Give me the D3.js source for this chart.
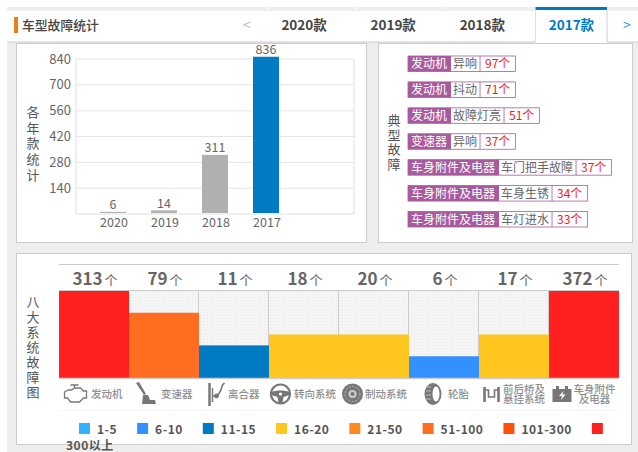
<!DOCTYPE html>
<html>
<head>
<meta charset="utf-8">
<script src="https://cdn.jsdelivr.net/npm/d3@7"></script>
<style>
html, body { margin: 0; padding: 0; background: #fff; overflow: hidden; }
text { font-family: "Noto Sans CJK SC", "Noto Sans", sans-serif; }
</style>
</head>
<body>
<svg id="chart"></svg>
<script>
const WIDTH = 638;
const HEIGHT = 452;

// tabs
const tabs = ['2020款', '2019款', '2018款', '2017款'];

// yearly stats
const years = ['2020', '2019', '2018', '2017'];
const yearValues = [6, 14, 311, 836];
const yearTicks = [140, 280, 420, 560, 700, 840];

// typical faults
const faultSystems = ['发动机', '发动机', '发动机', '变速器', '车身附件及电器', '车身附件及电器', '车身附件及电器'];
const faultNames = ['异响', '抖动', '故障灯亮', '异响', '车门把手故障', '车身生锈', '车灯进水'];
const faultCounts = [97, 71, 51, 37, 37, 34, 33];

// eight systems
const systems = ['发动机', '变速器', '离合器', '转向系统', '制动系统', '轮胎', '前后桥及悬挂系统', '车身附件及电器'];
const systemValues = [313, 79, 11, 18, 20, 6, 17, 372];

// legend buckets
const bucketLabels = ['1-5', '6-10', '11-15', '16-20', '21-50', '51-100', '101-300', '300以上'];
const bucketLimits = [6, 11, 16, 21, 51, 101, 301];
const bucketColors = ['#33b1ff', '#3390ff', '#007ac2', '#ffc620', '#ff8a20', '#ff6e20', '#ff5010', '#ff2020'];

const svg = d3.select('#chart').attr('width', WIDTH).attr('height', HEIGHT);

svg.append('rect').attr('x', 7).attr('y', 7).attr('width', WIDTH - 7).attr('height', HEIGHT - 7).attr('fill', '#eeeeee');

function panel(x, y, w, h) {
    svg.append('rect').attr('x', x + 0.5).attr('y', y + 0.5).attr('width', w).attr('height', h)
        .attr('fill', '#fff').attr('stroke', '#cccccc');
}

function verticalText(chars, x, top, step, size) {
    svg.append('g').selectAll('text').data(chars.split('')).enter().append('text')
        .attr('x', x).attr('y', (d, i) => top + i * step)
        .attr('text-anchor', 'middle').attr('font-size', size).attr('fill', '#555')
        .text(d => d);
}

// header
svg.append('rect').attr('x', 7).attr('y', 11).attr('width', WIDTH - 7).attr('height', 31).attr('fill', '#fff');
svg.append('line').attr('x1', 7).attr('x2', WIDTH).attr('y1', 42).attr('y2', 42).attr('stroke', '#cccccc');
svg.append('rect').attr('x', 14).attr('y', 17).attr('width', 4).attr('height', 16).attr('fill', '#ef7d1a');
svg.append('text').attr('x', 22).attr('y', 30).attr('font-size', 12.8).attr('font-weight', 500).attr('fill', '#444').text('车型故障统计');
svg.append('text').attr('x', 247).attr('y', 30).attr('text-anchor', 'middle').attr('font-size', 14).attr('fill', '#bbb').text('<');

const tabX = d3.scaleBand().domain(tabs).range([267.5, 624]);
// small white notches above the inactive tabs
svg.append('g').selectAll('rect').data(tabs.slice(0, 3)).enter().append('rect')
    .attr('x', d => tabX(d) - 0.5).attr('y', 7).attr('width', 72.5).attr('height', 2).attr('fill', '#eeeeee');
svg.append('g').selectAll('line').data(tabs.slice(0, 3)).enter().append('line')
    .attr('x1', d => tabX(d)).attr('x2', d => tabX(d)).attr('y1', 7).attr('y2', 10).attr('stroke', '#fff');
svg.append('rect').attr('x', 535.5).attr('y', 7).attr('width', 71.5).attr('height', 36).attr('fill', '#fff');
svg.append('line').attr('x1', 535.5).attr('x2', 535.5).attr('y1', 11).attr('y2', 42).attr('stroke', '#ddd');
svg.append('line').attr('x1', 607).attr('x2', 607).attr('y1', 11).attr('y2', 42).attr('stroke', '#ccc');
svg.append('rect').attr('x', 535.5).attr('y', 7).attr('width', 71.5).attr('height', 3).attr('fill', '#007ac2');
svg.append('g').selectAll('text').data(tabs).enter().append('text')
    .attr('x', d => tabX(d) + tabX.bandwidth() / 2 - 8)
    .attr('y', 30).attr('text-anchor', 'middle').attr('font-size', 13.5).attr('font-weight', 700)
    .attr('fill', d => d === '2017款' ? '#007ac2' : '#444').text(d => d);
svg.append('text').attr('x', 627).attr('y', 30).attr('text-anchor', 'middle').attr('font-size', 14).attr('fill', '#3a90d0').text('>');

// panels
panel(16, 43, 350, 199);
panel(378, 43, 254, 199);
panel(16, 253, 615, 191);

// --- bar chart ---
const x = d3.scaleBand().domain(years).range([87.5, 291.5]).paddingInner(0.49).paddingOuter(0.245);
const yGrid = d3.scaleLinear().domain([0, 840]).range([214, 59]);
const yBar = d3.scaleLinear().domain([0, 840]).range([213, 56]);

svg.append('g').selectAll('line').data(yearTicks).enter().append('line')
    .attr('x1', 76).attr('x2', 354)
    .attr('y1', d => yGrid(d)).attr('y2', d => yGrid(d))
    .attr('stroke', d => d === 560 ? '#eeeeee' : '#e4e4e4').attr('stroke-width', d => d === 560 ? 1.5 : 1);
svg.append('path').attr('fill', 'none').attr('stroke', '#e0e0e0').attr('stroke-width', 1)
    .attr('d', `M76,${yGrid(840)}V${yGrid(0)}H354V${yGrid(840)}`);

svg.append('g').selectAll('text').data(yearTicks).enter().append('text')
    .attr('x', 71).attr('y', d => yGrid(d) + 4.5)
    .attr('text-anchor', 'end').attr('font-size', 13).attr('fill', '#666').text(d => d);

svg.append('g').selectAll('rect').data(yearValues).enter().append('rect')
    .attr('x', (d, i) => x(years[i])).attr('width', x.bandwidth())
    .attr('y', d => yBar(d)).attr('height', d => yBar(0) - yBar(d))
    .attr('fill', (d, i) => i === 3 ? '#007ac2' : '#b0b0b0');

svg.append('g').selectAll('text').data(yearValues).enter().append('text')
    .attr('x', (d, i) => x(years[i]) + x.bandwidth() / 2)
    .attr('y', d => yBar(d) - 2.5)
    .attr('text-anchor', 'middle').attr('font-size', 12.5).attr('fill', '#666').text(d => d);

svg.append('g').selectAll('text').data(years).enter().append('text')
    .attr('x', d => x(d) + x.bandwidth() / 2 + 1)
    .attr('y', 227).attr('text-anchor', 'middle').attr('font-size', 12.5).attr('fill', '#666').text(d => d);

verticalText('各年款统计', 33, 117, 15.7, 13);

// --- typical faults ---
verticalText('典型故障', 394, 125, 14.7, 13);

const rowY = d3.scaleLinear().domain([0, 6]).range([56, 211.5]);
const measure = svg.append('text').attr('font-size', 12).attr('visibility', 'hidden');
function textWidth(s) { return measure.text(s).node().getComputedTextLength(); }
const tagColor = '#a85a9e';

faultSystems.forEach((sys, i) => {
    const y0 = rowY(i);
    const h = 15.5;
    const g = svg.append('g');
    const w1 = textWidth(sys) + 7;
    const w2 = textWidth(faultNames[i]) + 5;
    const w3 = textWidth(faultCounts[i] + '个') + 10;
    g.append('rect').attr('x', 408).attr('y', y0).attr('width', w1 + w2 + w3).attr('height', h)
        .attr('fill', '#fff').attr('stroke', tagColor).attr('stroke-width', 0.8);
    g.append('rect').attr('x', 408).attr('y', y0).attr('width', w1).attr('height', h).attr('fill', tagColor);
    g.append('line').attr('x1', 408 + w1 + w2).attr('x2', 408 + w1 + w2).attr('y1', y0).attr('y2', y0 + h)
        .attr('stroke', tagColor).attr('stroke-width', 0.8);
    g.append('text').attr('x', 411).attr('y', y0 + 12).attr('font-size', 12).attr('fill', '#fff').text(sys);
    g.append('text').attr('x', 408 + w1 + 2).attr('y', y0 + 12).attr('font-size', 12).attr('fill', '#666').text(faultNames[i]);
    g.append('text').attr('x', 408 + w1 + w2 + 5).attr('y', y0 + 12).attr('font-size', 12).attr('fill', '#ee1c25').text(faultCounts[i] + '个');
});

// --- eight systems ---
const defs = svg.append('defs');
const dots = defs.append('pattern').attr('id', 'dots').attr('width', 3).attr('height', 3).attr('patternUnits', 'userSpaceOnUse');
dots.append('rect').attr('width', 3).attr('height', 3).attr('fill', '#f5f5f5');
dots.append('rect').attr('width', 1).attr('height', 1).attr('fill', '#e8e8e8');

const sx = d3.scaleBand().domain(systems).range([59, 619]);
const bucket = d3.scaleThreshold().domain(bucketLimits).range(d3.range(1, 9));
const color = d3.scaleThreshold().domain(bucketLimits).range(bucketColors);
const sy = d3.scaleLinear().domain([0, 8]).range([378, 291]);

svg.append('line').attr('x1', 59).attr('x2', 619).attr('y1', 264.5).attr('y2', 264.5).attr('stroke', '#ccc');
svg.append('rect').attr('x', 59).attr('y', 291).attr('width', 560).attr('height', 87).attr('fill', 'url(#dots)');
svg.append('line').attr('x1', 59).attr('x2', 619).attr('y1', 290.5).attr('y2', 290.5).attr('stroke', '#ccc');
svg.append('g').selectAll('line').data(systems.slice(1)).enter().append('line')
    .attr('x1', d => sx(d) - 0.5).attr('x2', d => sx(d) - 0.5).attr('y1', 291).attr('y2', 378)
    .attr('stroke', '#ccc');

svg.append('g').selectAll('rect').data(systemValues).enter().append('rect')
    .attr('x', (d, i) => sx(systems[i])).attr('width', sx.bandwidth())
    .attr('y', d => sy(bucket(d))).attr('height', d => sy(0) - sy(bucket(d)))
    .attr('fill', d => color(d));
svg.append('line').attr('x1', 59).attr('x2', 619).attr('y1', 378.5).attr('y2', 378.5).attr('stroke', '#ccc').attr('stroke-width', 1.5);
svg.append('line').attr('x1', 59).attr('x2', 619).attr('y1', 410.5).attr('y2', 410.5).attr('stroke', '#f6f6f6');

const valueText = svg.append('g').selectAll('text').data(systemValues).enter().append('text')
    .attr('x', (d, i) => sx(systems[i]) + sx.bandwidth() / 2 + 1)
    .attr('y', 285).attr('text-anchor', 'middle').attr('fill', '#666');
valueText.append('tspan').attr('font-size', 17).attr('font-weight', 700).text(d => d);
valueText.append('tspan').attr('font-size', 13).attr('dx', 2).text('个');

verticalText('八大系统故障图', 33, 307, 15, 13);

// icons, one small drawing per system
const iconColor = '#777';
function iconPath(g, d, filled, width) {
    return g.append('path').attr('d', d)
        .attr('fill', filled ? iconColor : 'none')
        .attr('stroke', filled ? 'none' : iconColor)
        .attr('stroke-width', width || 1.3);
}
const icons = [
    g => {
        iconPath(g, 'M-11,-2L-7,-4H-4L-1,-6H5L8,-3H11V4H8L4,8H-5L-8,4H-11ZM-5,-9H3M-1,-9V-6');
    },
    g => {
        iconPath(g, 'M-10,-11L-7,-12L0,0L-2,1Z', true);
        iconPath(g, 'M-3,1H2L4,6H9L10,10H-4Z', true);
    },
    g => {
        iconPath(g, 'M-8,-11V12', false, 2.5);
        iconPath(g, 'M-5,-6V8', false, 1.5);
        iconPath(g, 'M-5,2H0L3,-3L5,-9L7,-11', false, 1.6);
        g.append('circle').attr('cx', -1).attr('cy', 2).attr('r', 2.4).attr('fill', iconColor);
    },
    g => {
        g.append('circle').attr('r', 9.5).attr('fill', 'none').attr('stroke', iconColor).attr('stroke-width', 2.2);
        iconPath(g, 'M-9,-2C-4,-4 4,-4 9,-2V1L3,3L2,9H-2L-3,3L-9,1Z', true);
        g.append('circle').attr('r', 1.6).attr('fill', '#fff');
    },
    g => {
        g.append('circle').attr('r', 10.5).attr('fill', iconColor);
        g.append('circle').attr('r', 7.5).attr('fill', 'none').attr('stroke', '#bbb').attr('stroke-width', 1).attr('stroke-dasharray', '2 1.5');
        g.append('circle').attr('r', 4).attr('fill', '#ccc');
        g.append('circle').attr('r', 2).attr('fill', iconColor);
    },
    g => {
        g.append('ellipse').attr('rx', 8.5).attr('ry', 11).attr('fill', iconColor);
        g.append('ellipse').attr('cx', 3).attr('rx', 3.5).attr('ry', 7.5).attr('fill', '#fff');
        iconPath(g, 'M-6,-7H-2M-7,-3H-2M-7,1H-2M-7,5H-2', false, 0.8).attr('stroke', '#ccc');
    },
    g => {
        iconPath(g, 'M-7,-7V8', false, 2.6);
        iconPath(g, 'M7,-7V8', false, 2.6);
        iconPath(g, 'M-7,-4H-3V3H3V-4H7', false, 1.6);
    },
    g => {
        iconPath(g, 'M-9.5,-5H-6V-8H-3V-5H3V-8H6V-5H9.5V8H-9.5Z', true);
        g.append('path').attr('fill', '#fff').attr('d', 'M1.5,-3L-3,2H0L-1,6L3.5,0.5H0.5Z');
    }
];
// icon and label offsets from each column's left edge
const iconOffsets = [16.5, 17, 18.5, 11.5, 13.5, 24, 12.5, 13];
const labelOffsets = [32, 32, 29, 25, 26, 39, 24, 25];
const labelLines = [['发动机'], ['变速器'], ['离合器'], ['转向系统'], ['制动系统'], ['轮胎'], ['前后桥及', '悬挂系统'], ['车身附件', '及电器']];

systems.forEach((s, i) => {
    const g = svg.append('g').attr('transform', `translate(${sx(s) + iconOffsets[i]},394)`);
    icons[i](g);
    const lines = labelLines[i];
    const lx = sx(s) + labelOffsets[i];
    svg.append('g').selectAll('text').data(lines).enter().append('text')
        .attr('y', (d, j) => lines.length === 1 ? 398 : 393 + j * 10)
        .attr('font-size', 10.5).attr('font-weight', 500).attr('fill', '#8f8f8f')
        .attr('x', lx + (i === 7 ? 20.5 : 0))
        .attr('text-anchor', i === 7 ? 'middle' : 'start')
        .text(d => d);
});

// legend flows left to right and wraps like inline html
const legend = svg.append('g');
let cursor = 79;
bucketLabels.forEach((label, i) => {
    legend.append('rect').attr('x', cursor).attr('y', 423).attr('width', 11).attr('height', 11).attr('fill', bucketColors[i]);
    const t = legend.append('text').attr('font-size', 12).attr('font-weight', 700).attr('fill', '#555').attr('letter-spacing', 0.5).text(label);
    const w = t.node().getComputedTextLength();
    const wraps = cursor + 18 + w > 619;
    t.attr('x', wraps ? 66 : cursor + 18).attr('y', wraps ? 450 : 434);
    cursor += 18 + w + 20;
});
</script>
</body>
</html>
